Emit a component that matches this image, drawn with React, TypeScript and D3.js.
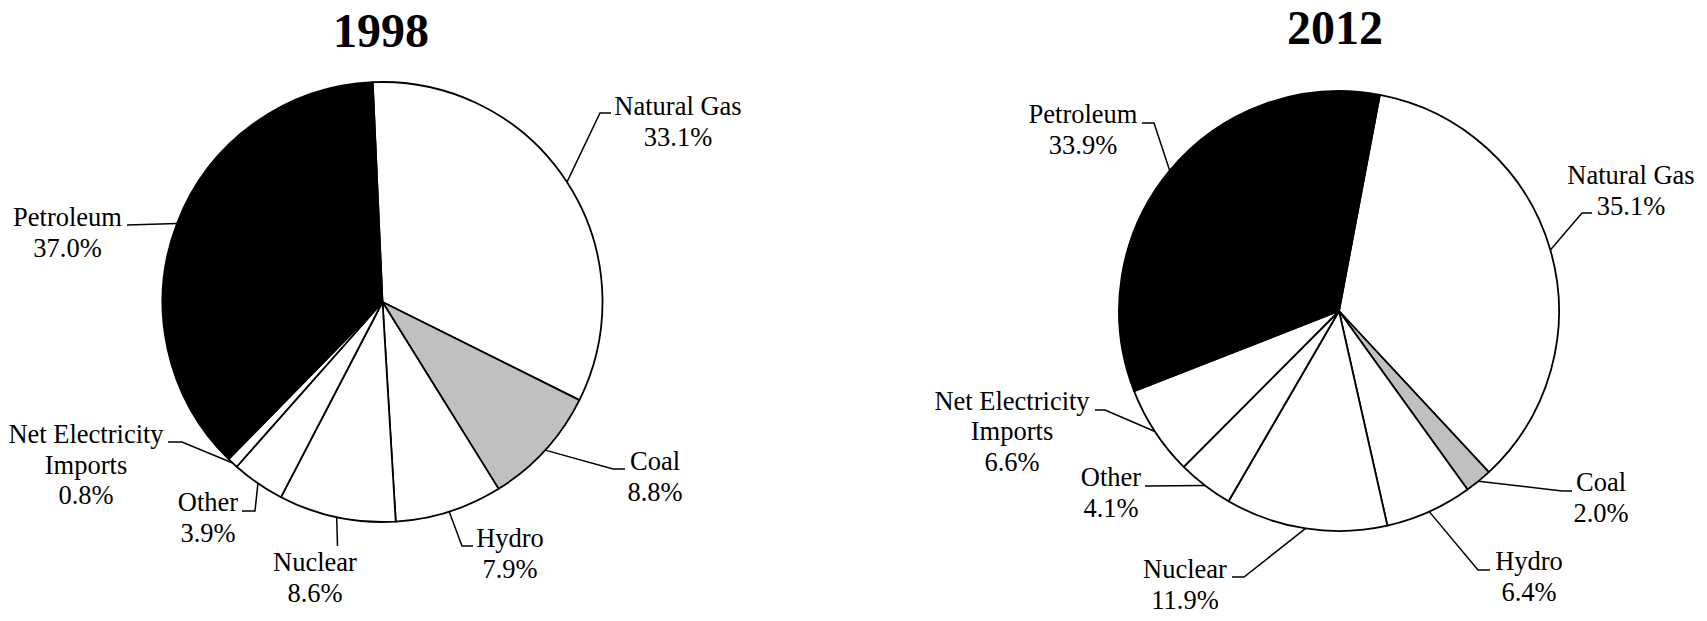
import { useEffect, useRef } from 'react';
import * as d3 from 'd3';

// energy shares (%), clockwise from the slice that starts near 12 o'clock
const categories = ['Natural Gas', 'Coal', 'Hydro', 'Nuclear', 'Other', 'Net Electricity Imports', 'Petroleum'];
const shares1998 = [33.1, 8.8, 7.9, 8.6, 3.9, 0.8, 37.0];
const shares2012 = [35.1, 2.0, 6.4, 11.9, 4.1, 6.6, 33.9];
const years = ['1998', '2012'];
const labelLines: Record<string, string[]> = {
  'Net Electricity Imports': ['Net Electricity', 'Imports'],
};
const fills: Record<string, string> = { Petroleum: '#000000', Coal: '#c0c0c0' };

const W = 1707;
const H = 621;
const FONT = '"Liberation Serif", "Times New Roman", serif';
const LINE = 30.5;

// label placement: [cx, first baseline, elbowX, elbowY, endX]
const layout = [
  {
    cx: 382.5, cy: 302, r: 220, start: -2.55, title: [381, 47],
    labels: [
      [678, 115, 600, 113, 611],
      [655, 470, 613, 469, 625],
      [510, 547, 462, 546, 473],
      [315, 571, 337.5, 546, 337.5],
      [208, 511, 255, 511, 242],
      [86, 443, 182, 442, 168],
      [67.5, 226, 127, 225, 127],
    ],
  },
  {
    cx: 1339, cy: 311, r: 220, start: 10.7, title: [1335, 44],
    labels: [
      [1631, 184, 1582, 213, 1592],
      [1601, 491, 1562, 491, 1572],
      [1529, 570, 1478, 570, 1490],
      [1185, 578, 1244, 577, 1232],
      [1111, 486, 1145, 486, 1145],
      [1012, 409.5, 1105, 410, 1095],
      [1083, 123, 1154, 123, 1142],
    ],
  },
];

const App = () => {
  const svgRef = useRef<SVGSVGElement>(null);

  useEffect(() => {
    const svg = d3.select(svgRef.current);
    svg.selectAll('*').remove();
    const all = [shares1998, shares2012];

    all.forEach((values, i) => {
      const L = layout[i];
      const start = (L.start * Math.PI) / 180;
      const pie = d3.pie<number>().sort(null).value((d) => d).startAngle(start).endAngle(start + 2 * Math.PI);
      const arcs = pie(values);
      const arc = d3.arc<d3.PieArcDatum<number>>().innerRadius(0).outerRadius(L.r);
      const edge = d3.arc<d3.PieArcDatum<number>>().innerRadius(L.r).outerRadius(L.r);

      const g = svg.append('g');
      g.append('text')
        .attr('x', L.title[0])
        .attr('y', L.title[1])
        .attr('text-anchor', 'middle')
        .attr('font-family', FONT)
        .attr('font-weight', 'bold')
        .attr('font-size', 48)
        .text(years[i]);

      const pieG = g.append('g').attr('transform', `translate(${L.cx},${L.cy})`);
      pieG
        .selectAll('path')
        .data(arcs)
        .join('path')
        .attr('d', arc)
        .attr('fill', (_, j) => fills[categories[j]] || '#ffffff')
        .attr('stroke', '#000')
        .attr('stroke-width', 1.8)
        .attr('stroke-linejoin', 'round');

      arcs.forEach((a, j) => {
        const [lx, ly, ex, ey, endX] = L.labels[j];
        const [px, py] = edge.centroid(a);
        const pts: [number, number][] = [
          [L.cx + px, L.cy + py],
          [ex, ey],
          [endX, ey],
        ];
        g.append('path')
          .attr('d', d3.line()(pts))
          .attr('fill', 'none')
          .attr('stroke', '#000')
          .attr('stroke-width', 1.5);

        const name = categories[j];
        const lines = [...(labelLines[name] || [name]), `${values[j].toFixed(1)}%`];
        const t = g
          .append('text')
          .attr('text-anchor', 'middle')
          .attr('font-family', FONT)
          .attr('font-size', 26.5)
          .attr('fill', '#000');
        lines.forEach((s, k) => {
          t.append('tspan').attr('x', lx).attr('y', ly + k * LINE).text(s);
        });
      });
    });
  }, []);

  return (
    <svg
      ref={svgRef}
      width={W}
      height={H}
      style={{ position: 'absolute', left: 0, top: 0, background: '#fff' }}
    />
  );
};

export default App;
